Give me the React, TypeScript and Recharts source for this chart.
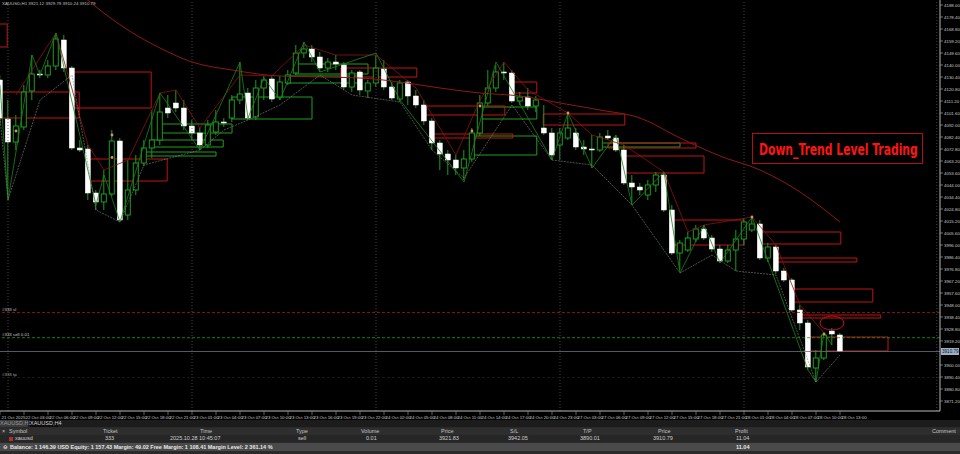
import React from 'react';
import {
  ComposedChart,
  Bar,
  Line,
  XAxis,
  YAxis,
  ReferenceArea,
  ReferenceLine,
  ReferenceDot,
} from 'recharts';

// XAUUSD H1, one value per bar
const opens = [
  4128, 4096.8, 4078.4, 4090.4, 4119.2, 4132.8, 4132, 4139.2, 4160, 4137.6,
  4073.6, 4072.8, 4037.6, 4030.4, 4036.8, 4079.2, 4020, 4040, 4061.6, 4073.6,
  4080, 4105.6, 4109.6, 4105.6, 4091.2, 4085.6, 4076, 4086.4, 4094.4, 4097.6,
  4112, 4117.6, 4098.4, 4121.6, 4128.8, 4114.4, 4125.6, 4133.6, 4149.6, 4152.8,
  4146.4, 4137.6, 4142.4, 4140, 4122.4, 4134.4, 4119.2, 4125.6, 4136.8, 4122.4,
  4112.8, 4126.4, 4115.2, 4108, 4095.2, 4077.6, 4068.8, 4064, 4057.6, 4064.8,
  4085.6, 4109.6, 4121.6, 4134.4, 4133.6, 4111.2, 4114.4, 4107.2, 4089.6, 4085.6,
  4076, 4081.6, 4085.6, 4074.4, 4072.8, 4072, 4083.2, 4081.6, 4072, 4045.6,
  4042.4, 4036, 4044, 4052, 4024, 3989.6, 3992, 4000.8, 4008.8, 4001.6,
  3992.8, 3983.2, 3992, 4000.8, 4008, 4012.8, 3985.6, 3994.4, 3975.2, 3968,
  3944, 3933.6, 3897.6, 3905.6, 3927.2, 3924,
];
const highs = [
  4132, 4112, 4100, 4124, 4148, 4136, 4144, 4165.6, 4164, 4139.2,
  4080, 4076, 4040, 4056, 4088, 4081.6, 4064, 4068, 4080, 4104,
  4117.6, 4116, 4120, 4112, 4096, 4089.6, 4096, 4104, 4097.6, 4116,
  4142.4, 4121.6, 4128, 4131.2, 4131.2, 4131.2, 4136, 4156, 4158.4, 4156,
  4150.4, 4145.6, 4148, 4142.4, 4136, 4136, 4128, 4148, 4144, 4126.4,
  4128, 4128, 4120, 4112, 4097.6, 4080, 4072, 4068, 4072, 4089.6,
  4116, 4136, 4140, 4142.4, 4136, 4118.4, 4121.6, 4115.2, 4108, 4089.6,
  4089.6, 4101.6, 4089.6, 4080, 4084, 4085.6, 4088, 4084, 4076, 4052,
  4045.6, 4048, 4054.4, 4054.4, 4028, 4000, 4006.4, 4012, 4012, 4004,
  3996, 3996, 4008, 4017.6, 4018.4, 4016, 3997.6, 3996, 3977.6, 3969.6,
  3948, 3936, 3912, 3925.6, 3929.6, 3925.6,
];
const lows = [
  4092, 4036, 4072, 4088, 4112, 4129.6, 4129.6, 4136, 4134.4, 4072,
  4070.4, 4032, 4024, 4024, 4035.2, 4014.4, 4016, 4036, 4059.2, 4065.6,
  4076, 4097.6, 4102.4, 4088, 4080, 4072, 4073.6, 4084, 4090.4, 4094.4,
  4108.8, 4096, 4096, 4112, 4110.4, 4112, 4124, 4132, 4145.6, 4142.4,
  4134.4, 4134.4, 4136, 4120, 4118.4, 4116, 4113.6, 4122.4, 4120, 4112,
  4110.4, 4108, 4105.6, 4092, 4072, 4056, 4052, 4052, 4048, 4062.4,
  4083.2, 4107.2, 4118.4, 4128, 4109.6, 4108, 4104, 4102.4, 4084, 4064,
  4064, 4080, 4072, 4068, 4057.6, 4070.4, 4080, 4070.4, 4044, 4028.8,
  4036, 4032, 4038.4, 4022.4, 3988, 3976, 3990.4, 3998.4, 4000, 3990.4,
  3981.6, 3981.6, 3975.2, 3996, 4006.4, 3984, 3982.4, 3972.8, 3966.4, 3942.4,
  3928, 3896, 3886.4, 3904, 3916, 3910.4,
];
const closes = [
  4097.6, 4078.4, 4091.2, 4118.4, 4132.8, 4132, 4139.2, 4160.8, 4137.6, 4073.6,
  4072, 4037.6, 4030.4, 4036.8, 4079.2, 4016, 4040, 4061.6, 4073.6, 4080,
  4102.4, 4101.6, 4105.6, 4091.2, 4085.6, 4076, 4092, 4094.4, 4093.6, 4112,
  4116.8, 4097.6, 4121.6, 4128, 4112.8, 4126.4, 4132, 4149.6, 4152.8, 4146.4,
  4137.6, 4142.4, 4140.8, 4122.4, 4133.6, 4120, 4125.6, 4137.6, 4122.4, 4113.6,
  4125.6, 4115.2, 4108, 4095.2, 4077.6, 4068.8, 4064, 4057.6, 4064.8, 4085.6,
  4109.6, 4121.6, 4134.4, 4133.6, 4111.2, 4114.4, 4107.2, 4112, 4085.6, 4068,
  4085.6, 4089.6, 4074.4, 4072.8, 4072, 4082.4, 4081.6, 4072, 4045.6, 4042.4,
  4040, 4044, 4052, 4024, 3989.6, 3997.6, 4001.6, 4008.8, 4001.6, 3992.8,
  3983.2, 3992, 4000.8, 4014.4, 4012.8, 3985.6, 3994.4, 3975.2, 3968, 3944,
  3933.6, 3898.4, 3905.6, 3924, 3924.8, 3910.8,
];

// one label every 3 bars
const timeLabels = [
  '21 Oct 2025', '22 Oct 03:00', '22 Oct 06:00', '22 Oct 09:00', '22 Oct 12:00', '22 Oct 15:00', '22 Oct 18:00', '22 Oct 21:00',
  '23 Oct 01:00', '23 Oct 04:00', '23 Oct 07:00', '23 Oct 10:00', '23 Oct 13:00', '23 Oct 16:00', '23 Oct 19:00', '23 Oct 22:00',
  '24 Oct 02:00', '24 Oct 05:00', '24 Oct 08:00', '24 Oct 11:00', '24 Oct 14:00', '24 Oct 17:00', '24 Oct 20:00', '24 Oct 23:00',
  '27 Oct 03:00', '27 Oct 06:00', '27 Oct 09:00', '27 Oct 12:00', '27 Oct 15:00', '27 Oct 18:00', '27 Oct 21:00',
  '28 Oct 01:00', '28 Oct 04:00', '28 Oct 07:00', '28 Oct 10:00', '28 Oct 13:00',
];

// the 3909.60 label sits under the bid price box
const priceTicks = [
  4188.0, 4178.4, 4168.8, 4159.2, 4149.6, 4140.0, 4130.4, 4120.8, 4111.2, 4101.6,
  4092.0, 4082.4, 4072.8, 4063.2, 4053.6, 4044.0, 4034.4, 4024.8, 4015.2, 4005.6,
  3996.0, 3986.4, 3976.8, 3967.2, 3957.6, 3948.0, 3938.4, 3928.8, 3919.2,
  3900.0, 3890.4, 3880.8, 3871.2,
];

// moving average, read at a few bars
const maPoints: [number, number][] = [
  [10, 4197], [14, 4176.8], [17, 4164], [20, 4153.6], [24, 4142.4], [29, 4136], [35, 4131.2],
  [40, 4130.4], [45, 4129.6], [50, 4126.4], [55, 4121.6], [60, 4117.6], [65, 4115.2],
  [70, 4109.6], [75, 4104], [80, 4097.6], [85, 4081.6], [90, 4067.2], [95, 4056],
  [100, 4038.4], [105, 4014.4],
];
// swing lines
const zigGreen: [number, number][] = [
  [0, 4124], [1, 4032], [4, 4148], [5, 4132], [7, 4165.6], [12, 4028], [13, 4052], [15, 4014.4],
  [20, 4117.6], [25, 4072], [30, 4142.4], [31, 4097.6], [33, 4129.6], [35, 4112], [38, 4158.4],
  [40, 4134.4], [47, 4149.6], [50, 4112], [58, 4046.4], [62, 4142.4], [69, 4064], [71, 4101.6],
  [74, 4057.6], [77, 4084], [79, 4028], [83, 4054.4], [85, 3973.6], [88, 4012], [90, 3981.6],
  [94, 4018.4], [101, 3896], [102, 3886.4], [103, 3925.6], [104, 3916],
];
const zigRed: [number, number][] = [
  [2, 4116], [7, 4165.6], [11, 4076], [13, 4056], [16, 4064], [20, 4117.6], [22, 4120], [25, 4089.6],
  [30, 4132], [34, 4131.2], [38, 4156], [42, 4148], [47, 4148], [52, 4121.6], [57, 4068], [60, 4112],
  [63, 4142.4], [66, 4120], [71, 4101.6], [74, 4084], [78, 4076], [83, 4054.4], [86, 4006.4],
  [88, 4012], [94, 4018.4], [97, 3996], [100, 3948], [103, 3925.6],
];
const lowLine: [number, number][] = [
  [0, 4097.6], [1, 4032], [5, 4112], [9, 4132], [12, 4024], [15, 4014.4], [18, 4060], [25, 4072],
  [28, 4088], [31, 4096], [35, 4108], [40, 4132], [44, 4116], [50, 4110.4], [54, 4072], [58, 4049.6],
  [64, 4108], [69, 4064], [74, 4060], [79, 4028], [85, 3973.6], [89, 3988], [92, 3975.2], [97, 3972],
  [102, 3886.4], [105, 3908],
];

// level boxes: [fromBar, toBar, top, bottom]
const redBoxes: [number, number, number, number][] = [
  [-0.5, 0.9, 4172.8, 4154.4],
  [-0.5, 9.9, 4118.4, 4097.6],
  [9, 18.9, 4134.4, 4105.6],
  [11, 20.9, 4064.8, 4047.2],
  [42.6, 52.1, 4137.6, 4130.4],
  [64, 67.1, 4126.4, 4117.6],
  [52.75, 63.1, 4107.2, 4100],
  [53.9, 64.1, 4084.8, 4081.6],
  [67.9, 78.1, 4100.8, 4092],
  [77.9, 88, 4067.2, 4053.6],
  [76, 87, 4077.6, 4073.6],
  [84, 93, 4016, 3996],
  [95.1, 105.1, 4006.4, 3996.8],
  [97.1, 107.1, 3985.6, 3982.4],
  [99, 109.1, 3960.8, 3950.4],
  [100.1, 110.1, 3940, 3937.6],
  [101.1, 111, 3922.4, 3911.2],
];
const greenBoxes: [number, number, number, number][] = [
  [19.9, 29, 4092.8, 4085.6],
  [19, 27.9, 4080, 4074.4],
  [17.9, 27, 4070.4, 4067.2],
  [29, 39, 4114.4, 4096.8],
  [35.9, 45, 4131.2, 4125.6],
  [36.9, 46, 4140.8, 4132.8],
  [59.9, 67.1, 4106.4, 4096.8],
  [59, 67.1, 4083.2, 4068],
  [75, 85, 4077.6, 4074.4],
];
const markers: [number, number][] = [
  [2, 4087.2], [14, 4084], [14, 4066], [59, 4087.2], [60, 4107.2], [71, 4101.6], [94, 4018.4], [103, 3924.8],
];
const daySeparators = [1, 24, 47, 70, 93];

const SL = 3942.05;
const ENTRY = 3921.83;
const TP = 3890.01;
const BID = 3910.79;

const SLOTS = 118;
const WICK = '#1c9c1c';
const MONO = "'Liberation Sans', 'DejaVu Sans', sans-serif";

const asMap = (pts: [number, number][]) => new Map(pts);
const maMap = asMap(maPoints);
const zgMap = asMap(zigGreen);
const zrMap = asMap(zigRed);
const lowMap = asMap(lowLine);

const data = Array.from({ length: SLOTS }, (_, i) => {
  const has = i < opens.length;
  return {
    i,
    range: has ? [lows[i], highs[i]] : null,
    o: has ? opens[i] : null,
    h: has ? highs[i] : null,
    l: has ? lows[i] : null,
    c: has ? closes[i] : null,
    ma: maMap.get(i) ?? null,
    zg: zgMap.get(i) ?? null,
    zr: zrMap.get(i) ?? null,
    lo: lowMap.get(i) ?? null,
  };
});

const renderCandle = (props: any) => {
  const { x, y, width, height, payload } = props;
  if (!payload || payload.o == null) return <g />;
  const { o, h, l, c } = payload;
  const top = Math.min(y, y + height);
  const hh = Math.abs(height);
  const k = hh / (h - l || 1);
  const cx = x + width / 2;
  const yTop = top + (h - Math.max(o, c)) * k;
  const yBot = top + (h - Math.min(o, c)) * k;
  const bull = c > o;
  const bw = 5;
  return (
    <g>
      <line x1={cx} x2={cx} y1={top} y2={top + hh} stroke={WICK} strokeWidth={1} />
      <rect
        x={cx - bw / 2}
        y={yTop}
        width={bw}
        height={Math.max(1, yBot - yTop)}
        fill={bull ? '#000' : '#fff'}
        stroke={bull ? WICK : '#fff'}
        strokeWidth={bull ? 1 : 0.5}
      />
    </g>
  );
};

const TimeTick = (p: any) => {
  const idx = p.payload.value;
  const label = idx % 3 === 0 ? timeLabels[idx / 3] : undefined;
  if (!label) return <g />;
  return (
    <g>
      <line x1={p.x} x2={p.x} y1={p.y - 5} y2={p.y - 1} stroke="#9a9a9a" strokeWidth={0.6} />
      <text x={p.x + 1.5} y={p.y + 2.6} fontSize={4.4} fill="#c8c8c8" fontFamily={MONO} textAnchor="start">
        {label}
      </text>
    </g>
  );
};

const PriceTick = (p: any) => (
  <text x={p.x} y={p.y + 1.6} fontSize={4.4} fill="#c8c8c8" fontFamily={MONO} textAnchor="start">
    {Number(p.payload.value).toFixed(2)}
  </text>
);

const TradeLabel = (p: any) => {
  const vb = p.viewBox || {};
  return (
    <text x={(vb.x ?? 0) + 6} y={(vb.y ?? 0) - 1.5} fontSize={4.4} fill={p.color} fontFamily={MONO}>
      {p.text}
    </text>
  );
};

const BidLabel = (p: any) => {
  const vb = p.viewBox || {};
  const x = (vb.x ?? 0) + (vb.width ?? 0);
  const y = vb.y ?? 0;
  return (
    <g>
      <rect x={x + 1} y={y - 3.5} width={18} height={7} fill="#9fb0c8" />
      <text x={x + 2} y={y + 1.6} fontSize={4.6} fill="#101820" fontFamily={MONO}>
        {BID.toFixed(2)}
      </text>
    </g>
  );
};

const Terminal = () => {
  const cell = (left: number, text: string, extra: React.CSSProperties = {}) => (
    <span style={{ position: 'absolute', left, whiteSpace: 'nowrap', ...extra }}>{text}</span>
  );
  const row: React.CSSProperties = { position: 'absolute', left: 0, width: 960, fontSize: 5.5, fontFamily: MONO };
  return (
    <div style={{ position: 'absolute', left: 0, top: 420, width: 960, height: 34, background: '#2a2a2a' }}>
      <div style={{ ...row, top: 0, height: 7, background: '#1c1c1c', color: '#9c9c9c', lineHeight: '7px' }}>
        <span style={{ position: 'absolute', left: 0, width: 28, height: 7, background: '#3b3b3b', textAlign: 'center' }}>
          XAUUSD,H1
        </span>
        <span style={{ position: 'absolute', left: 30, width: 28, height: 7, background: '#0d0d0d', color: '#d6d6d6', textAlign: 'center' }}>
          XAUUSD,H4
        </span>
      </div>
      <div style={{ ...row, top: 8, height: 7, background: '#2e2e2e', color: '#c4c4c4', lineHeight: '7px' }}>
        {cell(2, '×')}
        {cell(9, 'Symbol')}
        {cell(103, 'Ticket')}
        {cell(200, 'Time')}
        {cell(296, 'Type')}
        {cell(361, 'Volume')}
        {cell(441, 'Price')}
        {cell(510, 'S/L')}
        {cell(583, 'T/P')}
        {cell(658, 'Price')}
        {cell(735, 'Profit')}
        {cell(932, 'Comment')}
      </div>
      <div style={{ ...row, top: 15, height: 7, background: '#262626', color: '#cfcfcf', lineHeight: '7px' }}>
        <span style={{ position: 'absolute', left: 9, top: 1.5, width: 4, height: 4, background: '#b03030' }} />
        {cell(15, 'xauusd')}
        {cell(105, '333')}
        {cell(170, '2025.10.28 10:45:07')}
        {cell(298, 'sell')}
        {cell(366, '0.01')}
        {cell(439, '3921.83')}
        {cell(508, '3942.05')}
        {cell(580, '3890.01')}
        {cell(653, '3910.79')}
        {cell(736, '11.04')}
      </div>
      <div style={{ ...row, top: 23, height: 8, background: '#4a4a4a', color: '#e8e8e8', lineHeight: '8px', fontWeight: 600 }}>
        {cell(3, '⊖')}
        {cell(10, 'Balance: 1 146.39 USD  Equity: 1 157.43  Margin: 49.02  Free Margin: 1 108.41  Margin Level: 2 361.14 %')}
        {cell(736, '11.04')}
      </div>
    </div>
  );
};

export default function App() {
  return (
    <div style={{ position: 'fixed', left: 0, top: 0, width: 960, height: 454, background: '#000', overflow: 'hidden' }}>
      <div style={{ position: 'absolute', left: -4, top: 0 }}>
        <ComposedChart width={964} height={420} data={data} margin={{ top: 0, right: 0, bottom: 0, left: 0 }}>
          <XAxis
            xAxisId="c"
            dataKey="i"
            type="category"
            interval={2}
            height={9}
            tickSize={4}
            tickMargin={1}
            tickLine={false}
            axisLine={{ stroke: '#b8b8b8' }}
            tick={<TimeTick />}
          />
          <XAxis xAxisId="n" dataKey="i" type="number" domain={[-0.5, 117.5]} hide allowDataOverflow />
          <YAxis
            orientation="right"
            width={20}
            type="number"
            domain={[3863.2, 4192]}
            allowDataOverflow
            ticks={priceTicks}
            interval={0}
            tickSize={3}
            tickMargin={1}
            tickLine={{ stroke: '#b8b8b8', strokeWidth: 0.6 }}
            axisLine={{ stroke: '#b8b8b8' }}
            tick={<PriceTick />}
          />

          {daySeparators.map((d) => (
            <ReferenceLine key={'sep' + d} xAxisId="n" x={d} stroke="#555" strokeDasharray="1 2" strokeWidth={0.8} />
          ))}
          <ReferenceLine xAxisId="n" x={117.1} stroke="#555" strokeDasharray="1 2" strokeWidth={0.8} />

          <ReferenceLine
            xAxisId="n"
            y={SL}
            stroke="#b01818"
            strokeDasharray="3 2"
            strokeWidth={0.8}
            label={<TradeLabel text="#333 sl" color="#c8c8c8" />}
          />
          <ReferenceLine
            xAxisId="n"
            y={ENTRY}
            stroke="#1e9a1e"
            strokeDasharray="3 2"
            strokeWidth={0.8}
            label={<TradeLabel text="#333 sell 0.01" color="#c8c8c8" />}
          />
          <ReferenceLine
            xAxisId="n"
            y={TP}
            stroke="#1d1d1d"
            strokeDasharray="3 2"
            strokeWidth={0.8}
            label={<TradeLabel text="#333 tp" color="#a8a8a8" />}
          />
          <ReferenceLine xAxisId="n" y={BID} stroke="#6a6e80" strokeWidth={0.8} label={<BidLabel />} />

          {greenBoxes.map((b, k) => (
            <ReferenceArea
              key={'g' + k}
              xAxisId="n"
              x1={b[0]}
              x2={b[1]}
              y1={b[3]}
              y2={b[2]}
              fill="none"
              stroke="#1f9f1f"
              strokeWidth={1}
              ifOverflow="hidden"
            />
          ))}
          {redBoxes.map((b, k) => (
            <ReferenceArea
              key={'r' + k}
              xAxisId="n"
              x1={b[0]}
              x2={b[1]}
              y1={b[3]}
              y2={b[2]}
              fill="none"
              stroke="#c01515"
              strokeWidth={1}
              ifOverflow="hidden"
            />
          ))}

          <Bar xAxisId="c" dataKey="range" shape={renderCandle} isAnimationActive={false} />

          <Line xAxisId="c" dataKey="ma" type="monotone" stroke="#8e1818" strokeWidth={1} dot={false} connectNulls isAnimationActive={false} />
          <Line xAxisId="c" dataKey="zr" type="linear" stroke="#8e1212" strokeWidth={0.8} dot={false} connectNulls isAnimationActive={false} />
          <Line xAxisId="c" dataKey="zg" type="linear" stroke="#1a861a" strokeWidth={0.8} dot={false} connectNulls isAnimationActive={false} />
          <Line xAxisId="c" dataKey="lo" type="linear" stroke="#808c80" strokeWidth={0.6} strokeDasharray="2 1" dot={false} connectNulls isAnimationActive={false} />

          {markers.map((m, k) => (
            <ReferenceDot key={'m' + k} xAxisId="n" x={m[0]} y={m[1]} r={1.4} fill="#d89070" stroke="none" />
          ))}
          <ReferenceDot
            xAxisId="n"
            x={104}
            y={3933.6}
            r={1}
            shape={(p: any) => <ellipse cx={p.cx} cy={p.cy} rx={12} ry={7} fill="none" stroke="#c01515" strokeWidth={1} />}
          />
        </ComposedChart>
      </div>

      <svg style={{ position: 'absolute', left: 0, top: 0 }} width={960} height={420}>
        <text x={2} y={5} fontSize={4.4} fill="#c0c0c0" fontFamily={MONO}>
          XAUUSD,H1  3921.12 3929.79 3910.24 3910.79
        </text>
        <rect x={752.5} y={133.5} width={170} height={30} fill="#000" stroke="#b01010" strokeWidth={1} />
        <text
          transform="translate(759,155) scale(0.8,1)"
          x={0}
          y={0}
          fontSize={15}
          fontWeight="bold"
          fill="#ff1414"
          fontFamily="'DejaVu Sans Condensed', 'DejaVu Sans', sans-serif"
        >
          Down_Trend Level Trading
        </text>
      </svg>

      <Terminal />
    </div>
  );
}
